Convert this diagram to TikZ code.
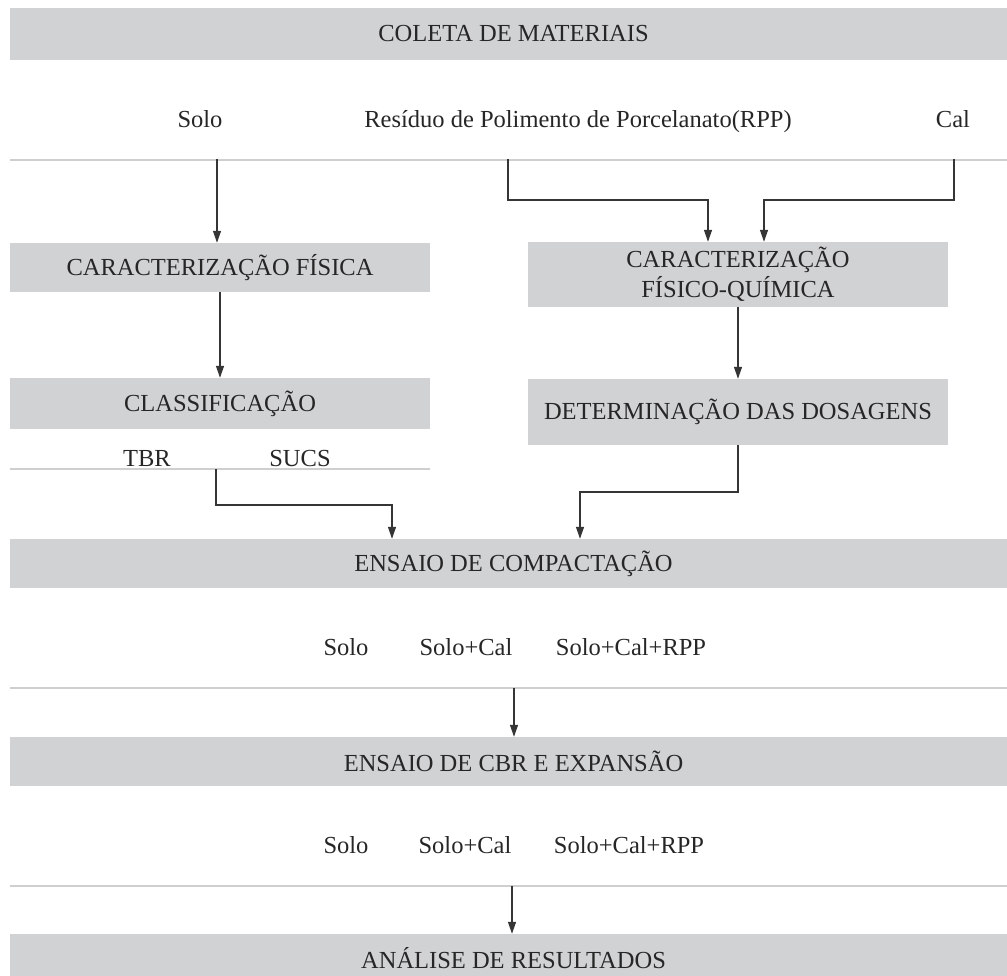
\documentclass[tikz,border=0pt]{standalone}
\usepackage{fontspec}
\setmainfont{Liberation Serif}
\usetikzlibrary{arrows.meta}
\definecolor{boxgray}{HTML}{D1D2D4}
\definecolor{sepgray}{HTML}{CFCFCF}
\definecolor{txt}{HTML}{262626}
\definecolor{arrc}{HTML}{353535}
\tikzset{
  stagebox/.style={fill=boxgray, draw=none, inner sep=0pt, text=txt, align=center,
    font=\fontsize{24.5}{30}\selectfont},
  label/.style={anchor=base, inner sep=0pt, text=txt, font=\fontsize{24.5}{30}\selectfont},
  sepline/.style={draw=sepgray, line width=1.2pt},
  arr/.style={draw=arrc, line width=1.3pt, -{Triangle[length=12pt,width=8pt]}},
}
\begin{document}
\begin{tikzpicture}[x=1pt,y=-1pt]
\useasboundingbox (0,0) rectangle (1007,976);
% boxes
\node[stagebox, minimum width=1007pt, minimum height=52pt] (coleta) at (513.5,34) {COLETA DE MATERIAIS};
\node[stagebox, minimum width=420pt, minimum height=49pt] (cf) at (220,267.5) {CARACTERIZAÇÃO FÍSICA};
\node[stagebox, minimum width=420pt, minimum height=51pt] (class) at (220,403.5) {CLASSIFICAÇÃO};
\node[stagebox, minimum width=420pt, minimum height=65pt] (cfq) at (738,274.5) {CARACTERIZAÇÃO\\FÍSICO-QUÍMICA};
\node[stagebox, minimum width=420pt, minimum height=66pt] (dd) at (738,412) {DETERMINAÇÃO DAS DOSAGENS};
\node[stagebox, minimum width=1007pt, minimum height=49pt] (comp) at (513.5,563.5) {ENSAIO DE COMPACTAÇÃO};
\node[stagebox, minimum width=1007pt, minimum height=49pt] (cbr) at (513.5,761.5) {ENSAIO DE CBR E EXPANSÃO};
\node[stagebox, minimum width=1007pt, minimum height=49pt] (res) at (513.5,958.5) {ANÁLISE DE RESULTADOS};
% labels
\node[label] (solo1) at (200,128) {Solo};
\node[label] (rpp) at (578,128) {Resíduo de Polimento de Porcelanato(RPP)};
\node[label] (cal) at (953,128) {Cal};
\node[label] (tbr) at (147,466) {TBR};
\node[label] (sucs) at (300,466) {SUCS};
\node[label] (c1) at (346,655) {Solo};
\node[label] (c2) at (466,655) {Solo+Cal};
\node[label] (c3) at (631,655) {Solo+Cal+RPP};
\node[label] (e1) at (346,853) {Solo};
\node[label] (e2) at (465,853) {Solo+Cal};
\node[label] (e3) at (629,853) {Solo+Cal+RPP};
% separators
\coordinate (s1l) at (10,160); \coordinate (s1r) at (1017,160);
\coordinate (s2l) at (10,469); \coordinate (s2r) at (430,469);
\coordinate (s3l) at (10,688); \coordinate (s3r) at (1017,688);
\coordinate (s4l) at (10,886); \coordinate (s4r) at (1017,886);
\draw[sepline] (s1l) -- (s1r);
\draw[sepline] (s2l) -- (s2r);
\draw[sepline] (s3l) -- (s3r);
\draw[sepline] (s4l) -- (s4r);
% connector start points
\coordinate (soloS) at (217,159);
\coordinate (rppS) at (508,159);
\coordinate (rppM) at (508,200);
\coordinate (calS) at (954,159);
\coordinate (calM) at (954,200);
\coordinate (tbrS) at (216,469);
\coordinate (tbrM) at (216,505);
\coordinate (ddM) at (738,492);
\coordinate (compS) at (514,688);
\coordinate (cbrS) at (512,886);
% connectors
\draw[arr] (soloS) -- (soloS |- cf.north);
\draw[arr] (rppS) -- (rppM) -| ([xshift=-30pt]cfq.north);
\draw[arr] (calS) -- (calM) -| ([xshift=26pt]cfq.north);
\draw[arr] (cf.south) -- (class.north);
\draw[arr] (cfq.south) -- (dd.north);
\draw[arr] (tbrS) -- (tbrM) -| ([xshift=-121.5pt]comp.north);
\draw[arr] (dd.south) -- (ddM) -| ([xshift=66.5pt]comp.north);
\draw[arr] (compS) -- (compS |- cbr.north);
\draw[arr] (cbrS) -- (cbrS |- res.north);
\end{tikzpicture}
\end{document}
